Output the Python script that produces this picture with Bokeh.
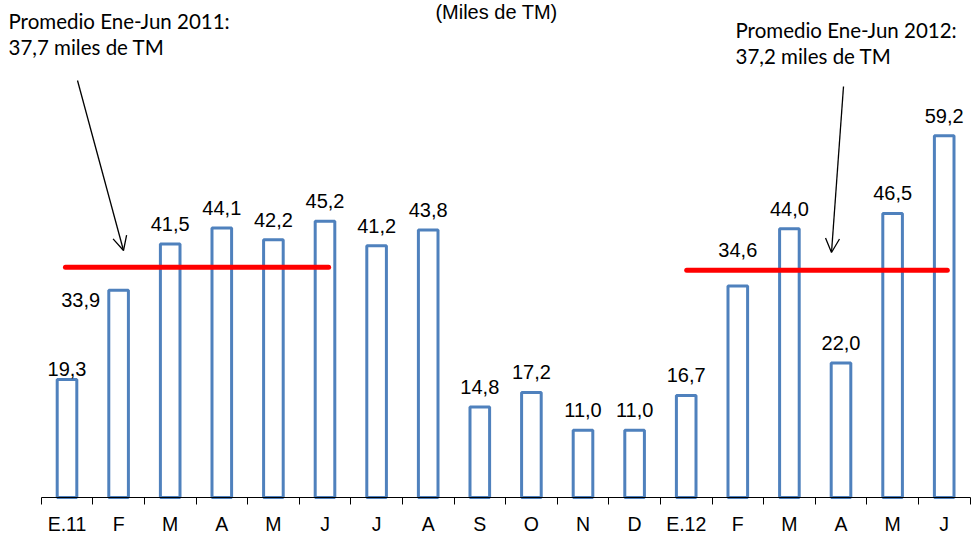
from bokeh.plotting import figure
from bokeh.models import (ColumnDataSource, Range1d, FixedTicker, Label, Arrow,
                          OpenHead)
from bokeh.embed import file_html
from bokeh.resources import INLINE
from bokeh.core.properties import value

# ---------------- data ----------------
categories = ["E.11", "F", "M", "A", "M", "J", "J", "A", "S", "O", "N", "D",
              "E.12", "F", "M", "A", "M", "J"]
values = [19.3, 33.9, 41.5, 44.1, 42.2, 45.2, 41.2, 43.8, 14.8, 17.2, 11.0, 11.0,
          16.7, 34.6, 44.0, 22.0, 46.5, 59.2]
avg_2011 = 37.7
avg_2012 = 37.2
title_text = "(Miles de TM)"
note_2011 = ["Promedio Ene-Jun 2011:", "37,7 miles de TM"]
note_2012 = ["Promedio Ene-Jun 2012:", "37,2 miles de TM"]

# ---------------- styling / placement ----------------
label_dx = [0, -38, 0, 0, 0, 0, 0, 0, 0, 0, 0, 0, 0, 0, 0, 0, 0, 0]
label_dy = [9, 30, 0, 0, 0, 0, 0, 0, 0, 0, 0, 0, 0, -16, 0, 0, 0, 0]
BASE_DY = -20
BLUE = "#4F81BD"
NUM_FONT = "Liberation Sans"
NOTE_FONT = "Lato"

W, H = 971, 539
PX_X = 51.6          # pixels per category
PX_Y = 6.11          # pixels per unit
X0_PX = 40.7         # px from left edge to first category boundary
Y0_PX = 497          # px from top to baseline

n = len(categories)
xs = [i + 0.5 for i in range(n)]
txt = [f"{v:.1f}".replace(".", ",") for v in values]

x_lo = -X0_PX / PX_X
x_hi = (W - X0_PX) / PX_X
y_hi = Y0_PX / PX_Y
y_lo = -(H - Y0_PX) / PX_Y


def dy(px_from_top):
    return (Y0_PX - px_from_top) / PX_Y


def dx(px_from_left):
    return (px_from_left - X0_PX) / PX_X


p = figure(width=W, height=H, output_backend="svg", toolbar_location=None,
           x_range=Range1d(x_lo, x_hi), y_range=Range1d(y_lo, y_hi),
           y_axis_location=None, min_border=0)
p.outline_line_color = None
p.xgrid.visible = False
p.ygrid.visible = False
p.background_fill_color = "white"

src = ColumnDataSource(dict(x=xs, top=values, text=txt, dx=label_dx,
                            dy=[d + BASE_DY for d in label_dy]))
p.vbar(x="x", top="top", width=0.38, source=src, fill_color="white",
       line_color=BLUE, line_width=3)
p.text(x="x", y="top", text="text", x_offset="dx", y_offset="dy", source=src,
       text_align="center", text_baseline="alphabetic",
       text_font=value(NUM_FONT), text_font_size="20px", text_color="#000000")

# average lines
p.segment(x0=[0.47, 12.51], y0=[avg_2011, avg_2012],
          x1=[5.57, 17.56], y1=[avg_2011, avg_2012],
          line_color="#FF0000", line_width=5, line_cap="round")

# arrows
p.add_layout(Arrow(end=OpenHead(size=14, line_width=1.3, line_color="black"),
                   x_start=dx(77), y_start=dy(80), x_end=dx(123), y_end=dy(250),
                   line_width=1.3, line_color="black"))
p.add_layout(Arrow(end=OpenHead(size=14, line_width=1.3, line_color="black"),
                   x_start=dx(843), y_start=dy(86), x_end=dx(831), y_end=dy(252),
                   line_width=1.3, line_color="black"))

# notes
for k, line in enumerate(note_2011):
    p.add_layout(Label(x=dx(8), y=dy(20 + 26 * k), text=line,
                       text_font=NOTE_FONT, text_font_size="20.5px",
                       text_baseline="middle", text_align="left",
                       text_color="#000000"))
for k, line in enumerate(note_2012):
    p.add_layout(Label(x=dx(735), y=dy(29 + 26 * k), text=line,
                       text_font=NOTE_FONT, text_font_size="20.5px",
                       text_baseline="middle", text_align="left",
                       text_color="#000000"))
p.add_layout(Label(x=dx(496), y=y_hi, text=title_text, text_font=NUM_FONT,
                   text_font_size="20px", text_baseline="top",
                   text_align="center", text_color="#000000"))

# x axis at y = 0 with boundary ticks
ax = p.xaxis[0]
ax.fixed_location = 0
ax.bounds = (0, n)
ax.ticker = FixedTicker(ticks=xs, minor_ticks=list(range(n + 1)))
ax.major_label_overrides = {x: c for x, c in zip(xs, categories)}
ax.major_tick_in = 0
ax.major_tick_out = 0
ax.minor_tick_in = 0
ax.minor_tick_out = 7
ax.minor_tick_line_color = "black"
ax.axis_line_color = "black"
ax.axis_line_width = 1.2
ax.major_label_standoff = 8
ax.major_label_text_font = NUM_FONT
ax.major_label_text_font_size = "19.5px"
ax.major_label_text_color = "#000000"

open("out.html", "w").write(file_html(p, INLINE))
